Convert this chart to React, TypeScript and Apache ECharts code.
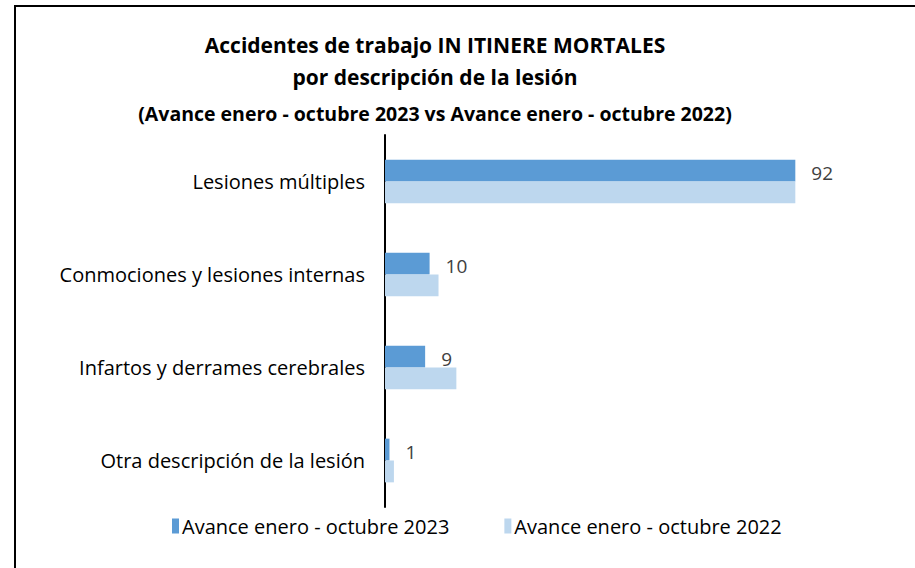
import React, { useEffect, useRef } from "react";
import * as echarts from "echarts";

const categories = [
  "Lesiones múltiples",
  "Conmociones y lesiones internas",
  "Infartos y derrames cerebrales",
  "Otra descripción de la lesión",
];
const seriesNames = ["Avance enero - octubre 2023", "Avance enero - octubre 2022"];
const values2023 = [92, 10, 9, 1];
const values2022 = [92, 12, 16, 2];
const titleLines = [
  "Accidentes de trabajo IN ITINERE MORTALES",
  "por descripción de la lesión",
  "(Avance enero - octubre 2023 vs Avance enero - octubre 2022)",
];

const FONT = "Open Sans";

export default function App() {
  const ref = useRef<HTMLDivElement>(null);
  useEffect(() => {
    if (!ref.current) return;
    const chart = echarts.init(ref.current, undefined, { renderer: "svg" });
    const titleText = (text: string, y: number, size: number) => ({
      type: "text",
      x: 435,
      y,
      style: {
        text,
        fontFamily: FONT,
        fontWeight: "bold",
        fontSize: size,
        fill: "#000",
        textAlign: "center",
        textVerticalAlign: "middle",
      },
    });
    chart.setOption({
      animation: false,
      backgroundColor: "#ffffff",
      textStyle: { fontFamily: FONT },
      graphic: [
        {
          type: "rect",
          shape: { x: 15, y: 6, width: 1200, height: 1200 },
          style: { fill: "none", stroke: "#000", lineWidth: 2 },
          silent: true,
        },
        titleText(titleLines[0], 45, 21),
        titleText(titleLines[1], 77, 21),
        titleText(titleLines[2], 113, 19.5),
      ],
      legend: {
        data: seriesNames,
        left: 167,
        top: 511,
        itemWidth: 7,
        itemHeight: 15,
        itemGap: 55,
        icon: "rect",
        textStyle: { fontFamily: FONT, fontSize: 20, color: "#000", padding: [0, 0, 0, -2] },
      },
      grid: { left: 385, top: 135, height: 372, width: 446 },
      xAxis: {
        type: "value",
        min: 0,
        max: 100,
        show: false,
        splitLine: { show: false },
      },
      yAxis: {
        type: "category",
        data: categories,
        inverse: true,
        axisLine: { show: true, lineStyle: { color: "#000", width: 2 } },
        axisTick: { show: false },
        axisLabel: { fontFamily: FONT, fontSize: 20, color: "#000", margin: 20 },
      },
      series: [
        {
          name: seriesNames[0],
          type: "bar",
          data: values2023,
          barGap: "0%",
          barCategoryGap: "53%",
          itemStyle: { color: "#5B9BD5" },
          label: {
            show: true,
            position: "right",
            distance: 16,
            offset: [0, 2],
            fontFamily: FONT,
            fontSize: 19,
            color: "#404040",
          },
        },
        {
          name: seriesNames[1],
          type: "bar",
          data: values2022,
          barGap: "0%",
          barCategoryGap: "53%",
          itemStyle: { color: "#BDD7EE" },
        },
      ],
    });
    return () => chart.dispose();
  }, []);
  return (
    <div
      ref={ref}
      style={{ position: "fixed", left: 0, top: 0, width: 915, height: 568, background: "#fff" }}
    />
  );
}
